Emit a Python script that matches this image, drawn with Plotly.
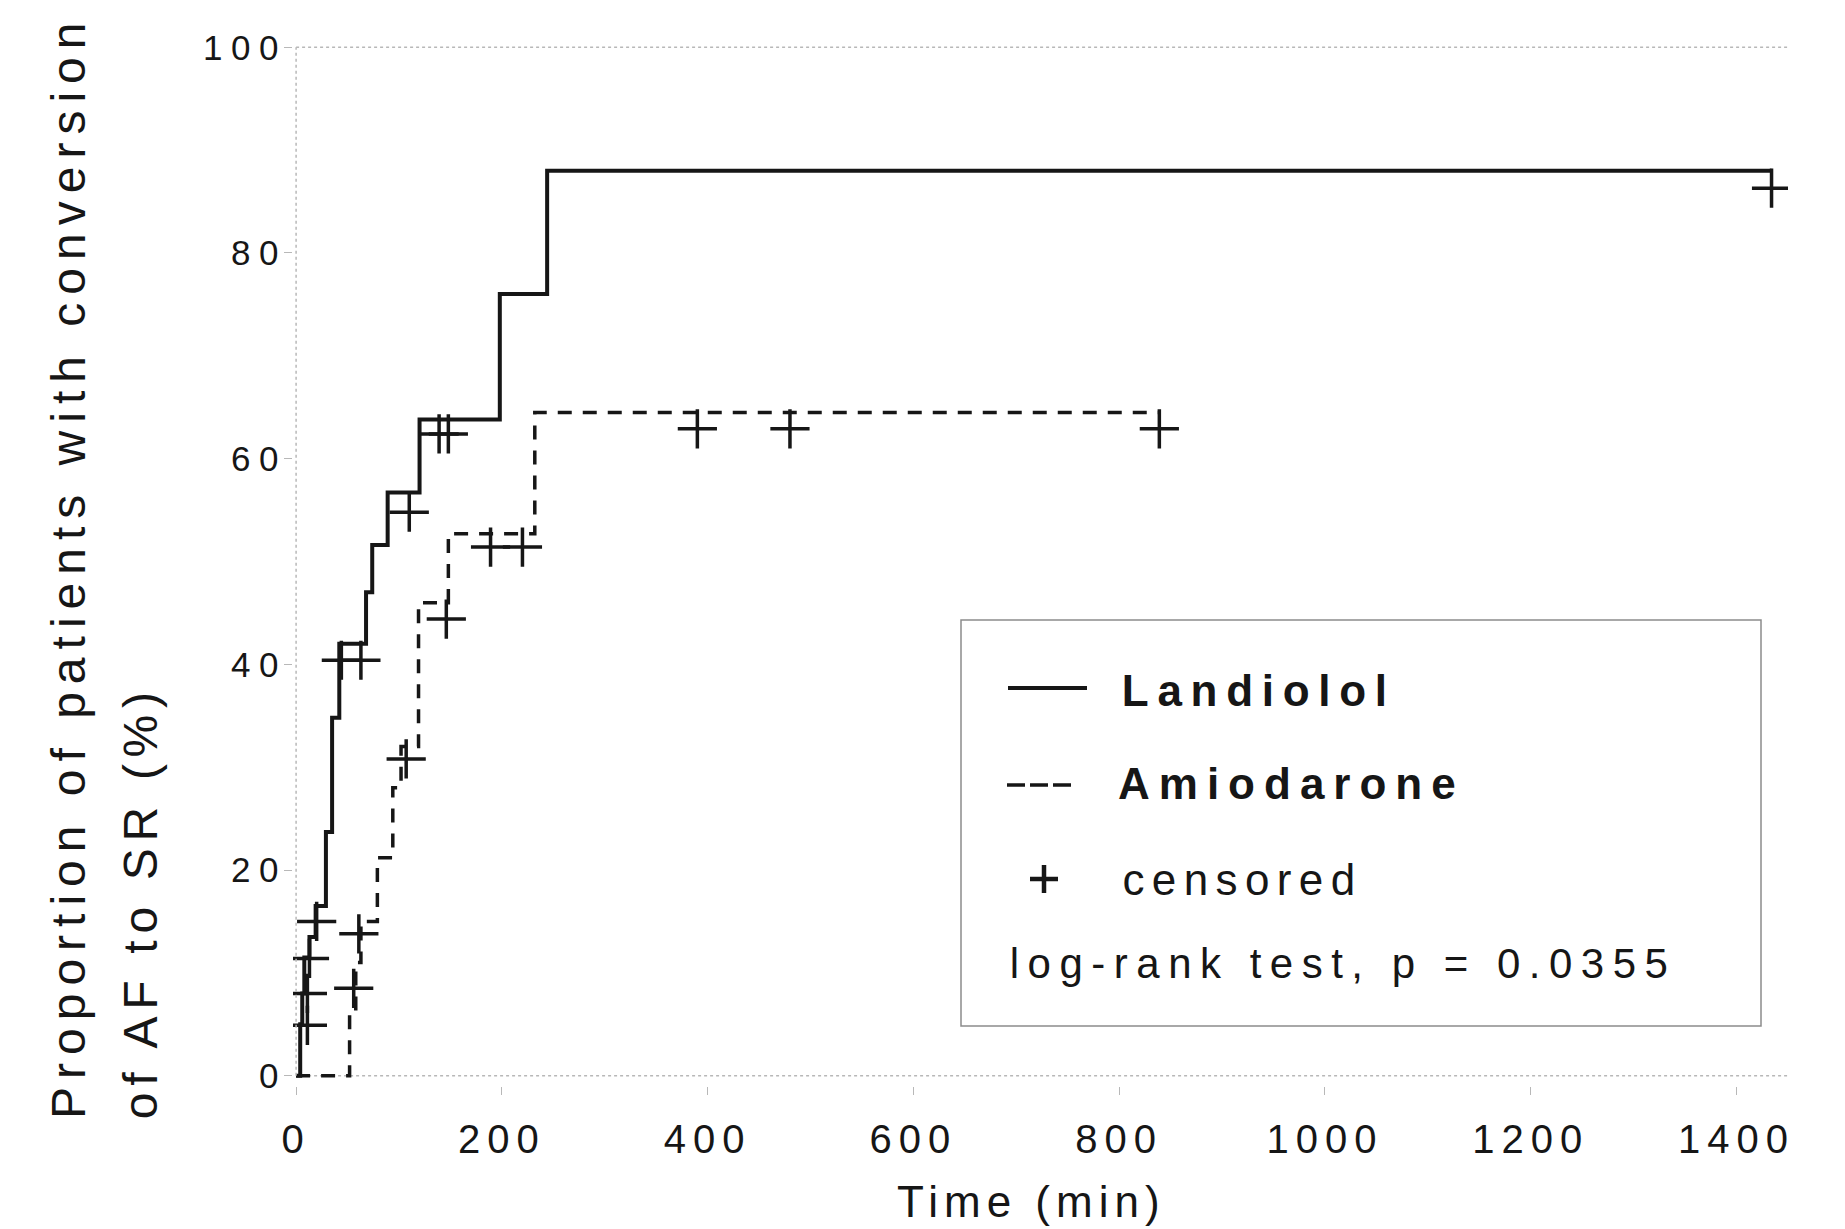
import plotly.graph_objects as go

# ---------------- data ----------------
land_t = [0, 4, 6, 8, 13, 19, 29, 35, 42, 68, 74, 89, 120, 198, 244, 1434]
land_v = [0, 5, 8, 11.5, 13.5, 16.5, 23.7, 34.8, 42, 47, 51.6, 56.7, 63.8, 76, 88, 88]
land_cens_t = [11, 11, 13, 20, 44, 63, 110, 139, 148, 1434]
land_cens_v = [4.9, 8.0, 11.4, 15.0, 40.4, 40.4, 54.8, 62.4, 62.4, 86.3]

amio_t = [0, 52, 58, 63, 79, 94, 102, 119, 148, 232, 839]
amio_v = [0, 6, 11, 15, 21.2, 28, 32, 46, 52.7, 64.5, 64.5]
amio_cens_t = [56, 61, 107, 146, 189, 220, 390, 480, 839]
amio_cens_v = [8.5, 13.8, 30.8, 44.4, 51.4, 51.4, 62.9, 62.9, 62.9]

x_ticks = [0, 200, 400, 600, 800, 1000, 1200, 1400]
x_tick_labels = ["0", "200", "400", "600", "800", "1000", "1200", "1400"]
y_ticks = [0, 20, 40, 60, 80, 100]
y_tick_labels = ["0", "20", "40", "60", "80", "100"]

series_names = ["Landiolol", "Amiodarone"]
censor_label = "censored"
stat_text = "log-rank test, p = 0.0355"
x_title = "Time (min)"
y_title_lines = ["Proportion of patients with conversion", "of AF to SR (%)"]

# ---------------- layout geometry ----------------
W, H = 1845, 1229
L, R, T, B = 293, 57, 37, 143
PX0, PX1, PY0, PY1 = L, W - R, T, H - B


def px(xp):
    return (xp - PX0) / (PX1 - PX0)


def py(yp):
    return (PY1 - yp) / (PY1 - PY0)


FONT = "Liberation Sans, Arial, sans-serif"
INK = "#161616"
GRID = "#b8b8b8"

fig = go.Figure()

fig.add_trace(go.Scatter(x=land_t, y=land_v, mode="lines", line_shape="hv",
                         line=dict(color=INK, width=4), name=series_names[0],
                         showlegend=False))
fig.add_trace(go.Scatter(x=amio_t, y=amio_v, mode="lines", line_shape="hv",
                         line=dict(color=INK, width=3.5, dash="14px,11px"),
                         name=series_names[1], showlegend=False))
for ct, cv in ((land_cens_t, land_cens_v), (amio_cens_t, amio_cens_v)):
    fig.add_trace(go.Scatter(x=ct, y=cv, mode="markers", showlegend=False,
                             marker=dict(symbol="cross-thin", size=28,
                                         line=dict(color=INK, width=3.5)),
                             name=censor_label))

shapes = []
# dotted frame lines (y axis at x=0, baseline, top line at 100)
shapes.append(dict(type="line", xref="x", yref="y", x0=0, x1=0, y0=0, y1=100,
                   line=dict(color=GRID, width=1.5, dash="dot")))
shapes.append(dict(type="line", xref="x", yref="y", x0=0, x1=1450, y0=0, y1=0,
                   line=dict(color=GRID, width=1.5, dash="dot"), layer="below"))
shapes.append(dict(type="line", xref="x", yref="y", x0=0, x1=1450, y0=100, y1=100,
                   line=dict(color=GRID, width=1.5, dash="dot")))

# legend box
shapes.append(dict(type="rect", xref="paper", yref="paper",
                   x0=px(961), x1=px(1761), y0=py(1026), y1=py(620),
                   line=dict(color="#8c8c8c", width=1.5), fillcolor="white"))
shapes.append(dict(type="line", xref="paper", yref="paper",
                   x0=px(1008), x1=px(1087), y0=py(688), y1=py(688),
                   line=dict(color=INK, width=4)))
shapes.append(dict(type="line", xref="paper", yref="paper",
                   x0=px(1007), x1=px(1073), y0=py(785), y1=py(785),
                   line=dict(color=INK, width=3.5, dash="18px,5px")))
shapes.append(dict(type="line", xref="paper", yref="paper",
                   x0=px(1030), x1=px(1058), y0=py(879), y1=py(879),
                   line=dict(color=INK, width=4.5)))
shapes.append(dict(type="line", xref="paper", yref="paper",
                   x0=px(1044), x1=px(1044), y0=py(865), y1=py(893),
                   line=dict(color=INK, width=4.5)))

ann = []
# 0,1: y title lines
ann.append(dict(text=y_title_lines[0], x=px(68), y=py(567), textangle=-90,
                font=dict(size=48, family=FONT, color=INK)))
ann.append(dict(text=y_title_lines[1], x=px(140), y=py(903), textangle=-90,
                font=dict(size=48, family=FONT, color=INK)))
# 2: x title
ann.append(dict(text=x_title, x=px(1031), y=py(1201),
                font=dict(size=44, family=FONT, color=INK)))
# 3-6: legend texts
ann.append(dict(text="<b>" + series_names[0] + "</b>", x=px(1259), y=py(690),
                font=dict(size=44, family=FONT, color=INK)))
ann.append(dict(text="<b>" + series_names[1] + "</b>", x=px(1291), y=py(784),
                font=dict(size=44, family=FONT, color=INK)))
ann.append(dict(text=censor_label, x=px(1242), y=py(879),
                font=dict(size=44, family=FONT, color=INK)))
ann.append(dict(text=stat_text, x=px(1343), y=py(963),
                font=dict(size=42, family=FONT, color=INK)))
for a in ann:
    a.update(xref="paper", yref="paper", xanchor="center", yanchor="middle",
             showarrow=False)

fig.update_layout(
    width=W, height=H,
    margin=dict(l=L, r=R, t=T, b=B, autoexpand=False),
    paper_bgcolor="white", plot_bgcolor="white",
    shapes=shapes, annotations=ann, showlegend=False,
    xaxis=dict(range=[-3, 1450], tickvals=x_ticks, ticktext=x_tick_labels,
               ticks="outside", ticklen=8, tickwidth=1, tickcolor=GRID,
               showgrid=False, zeroline=False, showline=False,
               tickfont=dict(size=40, family=FONT, color=INK),
               ticklabelstandoff=10),
    yaxis=dict(range=[-1, 101], tickvals=y_ticks, ticktext=y_tick_labels,
               ticks="outside", ticklen=8, tickwidth=1, tickcolor=GRID,
               showgrid=False, zeroline=False, showline=False,
               tickfont=dict(size=35, family=FONT, color=INK),
               ticklabelstandoff=-10),
)

js = """
var gd = document.querySelector('.js-plotly-plot');
function sp(sel, v){ gd.querySelectorAll(sel).forEach(function(e){ e.style.letterSpacing = v + 'px'; }); }
sp('.xtick text', 7);
sp('.ytick text', 8.5);
var spacing = {"0": 8, "1": 6.7, "2": 6, "3": 8.7, "4": 9, "5": 7.4, "6": 8.5};
gd.querySelectorAll('g.annotation').forEach(function(g){
  var i = g.getAttribute('data-index');
  var t = g.querySelector('text');
  if (t && spacing[i] !== undefined) { t.style.letterSpacing = spacing[i] + 'px'; }
});
"""

fig.write_html("out.html", post_script=js)
